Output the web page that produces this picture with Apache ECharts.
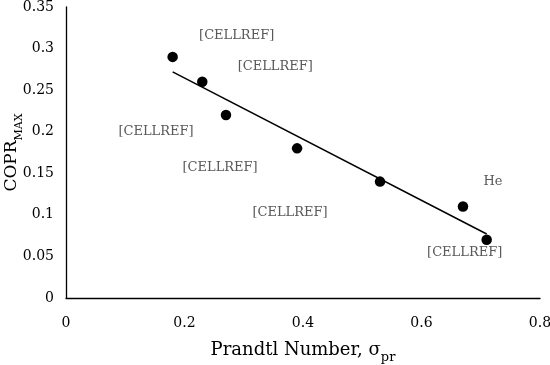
<!DOCTYPE html>
<html><head><meta charset="utf-8">
<script src="https://cdn.jsdelivr.net/npm/echarts@6/dist/echarts.min.js"></script>
<style>html,body{margin:0;padding:0;background:#fff}#c{width:550px;height:365px}</style>
</head><body><div id="c"></div>
<script>
// Data
const prandtl = [0.18, 0.23, 0.27, 0.39, 0.53, 0.67, 0.71];
const copr = [0.29, 0.26, 0.22, 0.18, 0.14, 0.11, 0.07];
const pointLabels = ['[CELLREF]', '[CELLREF]', '[CELLREF]', '[CELLREF]', '[CELLREF]', 'He', '[CELLREF]'];
const trendX = [0.18, 0.71];
const trendY = [0.272, 0.077];

// label offsets (layout only)
const labelOffsets = [[64, -21], [73, -15], [-70, 17], [-77, 19], [-90, 31], [30, -25], [-22, 13]];

const FONT = '"DejaVu Serif", "Liberation Serif", serif';
const chart = echarts.init(document.getElementById('c'), null, {renderer: 'canvas'});
chart.setOption({
  animation: false,
  backgroundColor: '#fff',
  grid: {left: 66, right: 10, top: 7, bottom: 67, containLabel: false, outerBoundsMode: 'none'},
  xAxis: {
    type: 'value', min: 0, max: 0.8, interval: 0.2,
    axisLine: {show: true, lineStyle: {color: '#000', width: 1.3}},
    axisTick: {show: false},
    splitLine: {show: false},
    axisLabel: {color: '#000', fontFamily: FONT, fontSize: 14, margin: 18},
    name: '{a|Prandtl Number, σ}{s|pr}',
    nameLocation: 'middle', nameGap: 43, nameMoveOverlap: false,
    nameTextStyle: {
      rich: {
        a: {fontFamily: FONT, fontSize: 18, color: '#000', verticalAlign: 'bottom'},
        s: {fontFamily: FONT, fontSize: 13, color: '#000', verticalAlign: 'bottom', padding: [0, 0, -5, 0]}
      }
    }
  },
  yAxis: {
    type: 'value', min: 0, max: 0.35, interval: 0.05,
    axisLine: {show: true, lineStyle: {color: '#000', width: 1.3}},
    axisTick: {show: false},
    splitLine: {show: false},
    axisLabel: {color: '#000', fontFamily: FONT, fontSize: 14, margin: 12},
    name: '{a|COPR}{s|MAX}',
    nameLocation: 'middle', nameGap: 46, nameRotate: 90, nameMoveOverlap: false,
    nameTextStyle: {
      rich: {
        a: {fontFamily: FONT, fontSize: 17, color: '#000', verticalAlign: 'bottom'},
        s: {fontFamily: FONT, fontSize: 11, color: '#000', verticalAlign: 'bottom', padding: [0, 0, -5, 0]}
      }
    }
  },
  series: [
    {
      type: 'line',
      data: trendX.map((x, i) => [x, trendY[i]]),
      symbol: 'none',
      lineStyle: {color: '#000', width: 1.5},
      silent: true, z: 1
    },
    {
      type: 'scatter',
      symbol: 'circle', symbolSize: 10.5,
      itemStyle: {color: '#000', opacity: 1},
      data: prandtl.map((x, i) => ({
        value: [x, copr[i]],
        label: {
          show: true, formatter: pointLabels[i], position: 'inside',
          offset: labelOffsets[i], color: '#595959', fontFamily: FONT, fontSize: 13
        }
      })),
      z: 2
    }
  ]
});
</script></body></html>
